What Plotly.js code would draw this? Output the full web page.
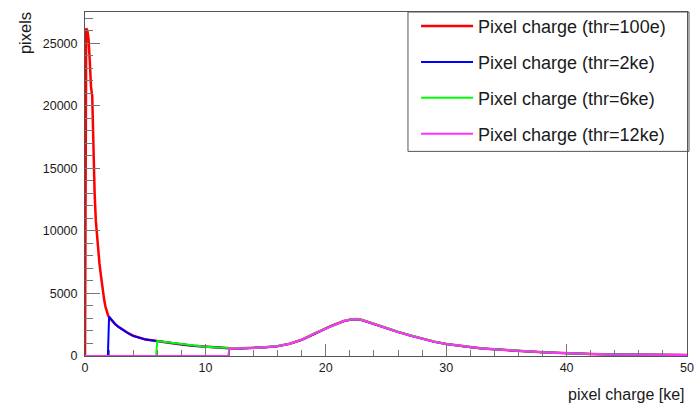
<!DOCTYPE html>
<html>
<head>
<meta charset="utf-8">
<script src="https://cdn.plot.ly/plotly-3.0.1.min.js"></script>
<style>html,body{margin:0;padding:0;background:#fff;}#chart{width:697px;height:404px;}</style>
</head>
<body>
<div id="chart"></div>
<script>
// pixel charge bin positions [ke]
const charge = [0, 0.05, 0.1, 0.2, 0.3, 0.4, 0.5, 0.6, 0.7, 0.8, 0.9, 1.0, 1.1, 1.2, 1.3, 1.4, 1.5, 1.6, 1.7, 1.8, 1.9, 2.0,
  2.25, 2.5, 2.75, 3.0, 3.5, 4.0, 4.5, 5.0, 5.5, 5.9, 6.0, 6.5, 7, 7.5, 8, 9, 10, 11, 11.9, 12,
  13, 14, 15, 16, 17, 18, 19, 20, 20.5, 21, 21.5, 22, 22.5, 23, 23.5, 24, 25, 26, 27, 28, 29, 30,
  31, 32, 33, 34, 35, 36, 37, 38, 39, 40, 42, 44, 46, 48, 50];

const thr100e = [0, 24000, 26200, 26000, 25300, 23500, 21500, 20800, 16500, 13000, 10800, 9400, 8300, 7400, 6600, 5800, 5100, 4450, 3950, 3550, 3300, 3100,
  2800, 2550, 2350, 2180, 1880, 1620, 1450, 1330, 1260, 1200, 1190, 1130, 1060, 990, 920, 820, 740, 670, 620, 615,
  610, 640, 700, 790, 980, 1300, 1780, 2200, 2420, 2630, 2800, 2900, 2950, 2880, 2720, 2540, 2260, 1930, 1650, 1370, 1150, 960,
  820, 700, 600, 530, 460, 400, 345, 300, 255, 215, 160, 125, 100, 85, 72];

const thr2ke = [0, 0, 0, 0, 0, 0, 0, 0, 0, 0, 0, 0, 0, 0, 0, 0, 0, 0, 0, 0, 0, 3150,
  2820, 2560, 2350, 2170, 1870, 1610, 1450, 1320, 1250, 1200, 1180, 1120, 1050, 985, 915, 815, 735, 665, 618, 612,
  605, 635, 695, 785, 975, 1290, 1770, 2190, 2410, 2620, 2790, 2890, 2940, 2870, 2710, 2530, 2250, 1920, 1640, 1360, 1140, 955,
  815, 695, 595, 525, 455, 395, 340, 295, 250, 210, 158, 123, 98, 84, 70];

const thr6ke = [0, 0, 0, 0, 0, 0, 0, 0, 0, 0, 0, 0, 0, 0, 0, 0, 0, 0, 0, 0, 0, 0,
  0, 0, 0, 0, 0, 0, 0, 0, 0, 0, 1200, 1140, 1070, 1000, 925, 830, 745, 675, 622, 618,
  612, 642, 702, 795, 985, 1305, 1790, 2210, 2430, 2640, 2810, 2910, 2960, 2890, 2730, 2550, 2270, 1940, 1660, 1380, 1160, 965,
  825, 705, 605, 535, 465, 405, 350, 305, 258, 218, 162, 127, 102, 86, 73];

const thr12ke = [0, 0, 0, 0, 0, 0, 0, 0, 0, 0, 0, 0, 0, 0, 0, 0, 0, 0, 0, 0, 0, 0,
  0, 0, 0, 0, 0, 0, 0, 0, 0, 0, 0, 0, 0, 0, 0, 0, 0, 0, 0, 620,
  608, 638, 698, 788, 978, 1295, 1775, 2195, 2415, 2625, 2795, 2895, 2945, 2875, 2715, 2535, 2255, 1925, 1645, 1365, 1145, 958,
  818, 698, 598, 528, 458, 398, 343, 298, 253, 213, 160, 124, 99, 84, 71];

const seriesNames = ['Pixel charge (thr=100e)', 'Pixel charge (thr=2ke)', 'Pixel charge (thr=6ke)', 'Pixel charge (thr=12ke)'];
const seriesValues = [thr100e, thr2ke, thr6ke, thr12ke];
const seriesColors = ['#ff0000', '#0000ff', '#00ff00', '#ff33ff'];
const seriesWidths = [2.5, 2, 2, 2];

const FONT = 'Liberation Sans, Arial, Helvetica, sans-serif';

const traces = seriesValues.map((v, i) => ({
  type: 'scatter',
  mode: 'lines',
  x: charge,
  y: v,
  name: seriesNames[i],
  legendgroup: 'g' + i,
  line: {color: seriesColors[i], width: seriesWidths[i]},
  hoverinfo: 'x+y+name'
}));

const layout = {
  width: 697, height: 404,
  margin: {l: 85, r: 10, t: 8, b: 48},
  paper_bgcolor: '#fff', plot_bgcolor: '#fff',
  font: {family: FONT, color: '#1a1a1a'},
  showlegend: true,
  legend: {
    x: 0.5499, y: 1.012, xanchor: 'left', yanchor: 'top',
    bgcolor: 'rgba(255,255,255,0)', borderwidth: 0,
    font: {family: FONT, size: 18, color: '#1a1a1a'},
    tracegroupgap: 9.5, itemwidth: 52
  },
  xaxis: {
    range: [0, 50], tick0: 0, dtick: 10,
    ticks: 'inside', ticklen: 12, tickcolor: '#777', tickwidth: 1,
    minor: {dtick: 2, ticks: 'inside', ticklen: 6, tickcolor: '#777', tickwidth: 1, showgrid: false},
    showline: true, linecolor: '#555', linewidth: 1, mirror: true,
    showgrid: false, zeroline: false,
    tickfont: {family: FONT, size: 12.5, color: '#1a1a1a'}
  },
  yaxis: {
    range: [0, 27500], tick0: 0, dtick: 5000, tickformat: 'd',
    ticks: 'inside', ticklen: 15, tickcolor: '#777', tickwidth: 1, ticklabelstandoff: 4,
    minor: {dtick: 1000, ticks: 'inside', ticklen: 8, tickcolor: '#777', tickwidth: 1, showgrid: false},
    showline: true, linecolor: '#555', linewidth: 1, mirror: true,
    showgrid: false, zeroline: false,
    tickfont: {family: FONT, size: 12.5, color: '#1a1a1a'}
  },
  shapes: [{
    type: 'rect', xref: 'paper', yref: 'paper',
    x0: 0.5365, x1: 1.0033, y0: 0.5948, y1: 1,
    line: {color: '#555', width: 1}, fillcolor: 'rgba(0,0,0,0)', layer: 'above'
  }],
  annotations: [
    {text: 'pixel charge [ke]', xref: 'paper', yref: 'paper', x: 1, y: -0.112,
     xanchor: 'right', yanchor: 'middle', showarrow: false,
     font: {family: FONT, size: 16, color: '#1a1a1a'}},
    {text: 'pixels', xref: 'paper', yref: 'paper', x: -0.1, y: 1.005,
     xanchor: 'center', yanchor: 'top', textangle: -90, showarrow: false,
     font: {family: FONT, size: 16.5, color: '#1a1a1a'}}
  ]
};

Plotly.newPlot('chart', traces, layout, {displayModeBar: false, staticPlot: true});
</script>
</body>
</html>
